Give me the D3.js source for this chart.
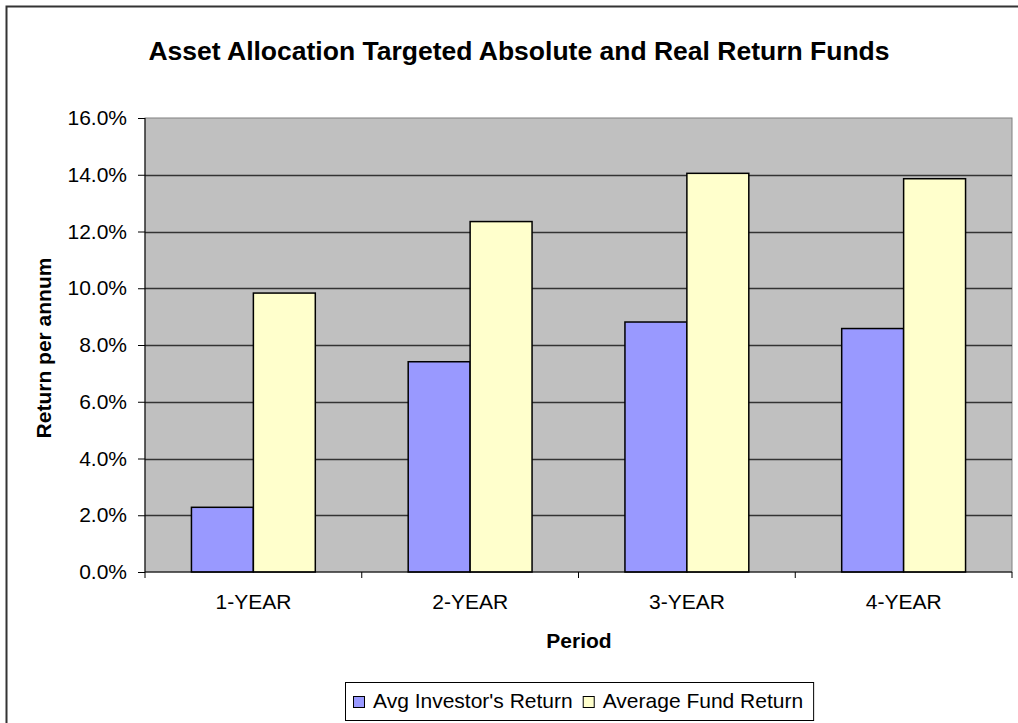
<!DOCTYPE html>
<html>
<head>
<meta charset="utf-8">
<script src="https://cdn.jsdelivr.net/npm/d3@7"></script>
<style>
  body { margin: 0; background: #fff; }
  text { font-family: "Liberation Sans", Arial, sans-serif; fill: #000; }
</style>
</head>
<body>
<div id="chart"></div>
<script>
// data
var periods = ["1-YEAR", "2-YEAR", "3-YEAR", "4-YEAR"];
var seriesNames = ["Avg Investor's Return", "Average Fund Return"];
var investorReturn = [2.28, 7.41, 8.81, 8.58];
var fundReturn = [9.83, 12.35, 14.05, 13.86];
var yTicks = [0, 2, 4, 6, 8, 10, 12, 14, 16];

var colors = ["#9999FF", "#FFFFCC"];

var svgWidth = 1018;
var svgHeight = 723;
var fontSize = "21px";

var plot = { left: 145, top: 118, right: 1012, bottom: 572 };

var svg = d3.select("#chart")
  .append("svg")
  .attr("width", svgWidth)
  .attr("height", svgHeight);

// outer chart border
svg.append("rect")
  .attr("x", 6.5)
  .attr("y", 6.5)
  .attr("width", 1030)
  .attr("height", 740)
  .attr("fill", "none")
  .attr("stroke", "#333")
  .attr("stroke-width", 2);

var x0 = d3.scaleBand()
  .domain(periods)
  .range([plot.left, plot.right])
  .paddingInner(0)
  .paddingOuter(0);

var x1 = d3.scaleBand()
  .domain(seriesNames)
  .range([0, x0.bandwidth()])
  .paddingInner(0)
  .paddingOuter(0.75);

var y = d3.scaleLinear()
  .domain([0, 16])
  .range([plot.bottom, plot.top]);

// plot area background
svg.append("rect")
  .attr("x", plot.left)
  .attr("y", plot.top)
  .attr("width", plot.right - plot.left)
  .attr("height", plot.bottom - plot.top)
  .attr("fill", "#C0C0C0")
  .attr("stroke", "#808080")
  .attr("stroke-width", 1);

// gridlines
svg.append("g")
  .selectAll("line")
  .data(yTicks.filter(d => d > 0 && d < 16))
  .enter()
  .append("line")
  .attr("x1", plot.left)
  .attr("x2", plot.right)
  .attr("y1", d => Math.round(y(d)) + 0.5)
  .attr("y2", d => Math.round(y(d)) + 0.5)
  .attr("stroke", "#333")
  .attr("stroke-width", 1.3);

// bars
var rows = periods.map(function(p, i) {
  return { period: p, values: [investorReturn[i], fundReturn[i]] };
});

var groups = svg.append("g")
  .selectAll("g")
  .data(rows)
  .enter()
  .append("g")
  .attr("transform", d => `translate(${x0(d.period)},0)`);

groups.selectAll("rect")
  .data(d => d.values.map((v, j) => ({ name: seriesNames[j], value: v, idx: j })))
  .enter()
  .append("rect")
  .attr("x", d => x1(d.name))
  .attr("y", d => y(d.value))
  .attr("width", x1.bandwidth())
  .attr("height", d => y(0) - y(d.value))
  .attr("fill", d => colors[d.idx])
  .attr("stroke", "#000")
  .attr("stroke-width", 1.5);

// y axis
var leftAxis = d3.axisLeft(y)
  .tickValues(yTicks)
  .tickSize(7)
  .tickPadding(11)
  .tickFormat(d => d.toFixed(1) + "%");

var yAxisG = svg.append("g")
  .attr("transform", `translate(${plot.left},0)`)
  .call(leftAxis);
yAxisG.select(".domain").attr("stroke", "#000").attr("d", `M0,${plot.top}V${plot.bottom}`);
yAxisG.selectAll(".tick line").attr("stroke", "#000");
yAxisG.selectAll(".tick text")
  .style("font-size", fontSize)
  .style("font-family", "Liberation Sans, Arial, sans-serif")
  .attr("fill", "#000");

// x axis
var bottomAxis = d3.axisBottom(x0)
  .tickSize(0)
  .tickPadding(22);

var xAxisG = svg.append("g")
  .attr("transform", `translate(0,${plot.bottom})`)
  .call(bottomAxis);
xAxisG.select(".domain").attr("stroke", "#000").attr("d", `M${plot.left},0H${plot.right}`);
xAxisG.selectAll(".tick text")
  .style("font-size", fontSize)
  .style("font-family", "Liberation Sans, Arial, sans-serif")
  .attr("fill", "#000");

// category boundary ticks
svg.append("g")
  .selectAll("line")
  .data(periods.concat(["end"]))
  .enter()
  .append("line")
  .attr("x1", (d, i) => i < periods.length ? x0(d) : plot.right)
  .attr("x2", (d, i) => i < periods.length ? x0(d) : plot.right)
  .attr("y1", plot.bottom)
  .attr("y2", plot.bottom + 6)
  .attr("stroke", "#000");

// title
svg.append("text")
  .attr("x", 519)
  .attr("y", 60)
  .attr("text-anchor", "middle")
  .style("font-size", "26.5px")
  .style("font-weight", "bold")
  .text("Asset Allocation Targeted Absolute and Real Return Funds");

// axis titles
svg.append("text")
  .attr("transform", `translate(51, ${(plot.top + plot.bottom) / 2 + 3}) rotate(-90)`)
  .attr("text-anchor", "middle")
  .style("font-size", fontSize)
  .style("font-weight", "bold")
  .text("Return per annum");

svg.append("text")
  .attr("x", 579)
  .attr("y", 648)
  .attr("text-anchor", "middle")
  .style("font-size", fontSize)
  .style("font-weight", "bold")
  .text("Period");

// legend
var legend = svg.append("g");
var legendBox = legend.append("rect")
  .attr("x", 345.5)
  .attr("y", 682.5)
  .attr("height", 38)
  .attr("fill", "#fff")
  .attr("stroke", "#000");

var legendItems = [
  { name: seriesNames[0], color: colors[0] },
  { name: seriesNames[1], color: colors[1] }
];

var lx = 353;
legendItems.forEach(function(d) {
  legend.append("rect")
    .attr("x", lx + 0.5)
    .attr("y", 696.5)
    .attr("width", 11)
    .attr("height", 11)
    .attr("fill", d.color)
    .attr("stroke", "#000");
  var t = legend.append("text")
    .attr("x", lx + 20)
    .attr("y", 708)
    .style("font-size", fontSize)
    .text(d.name);
  lx = lx + 20 + t.node().getComputedTextLength() + 10;
});
legendBox.attr("width", lx - 345);
</script>
</body>
</html>
